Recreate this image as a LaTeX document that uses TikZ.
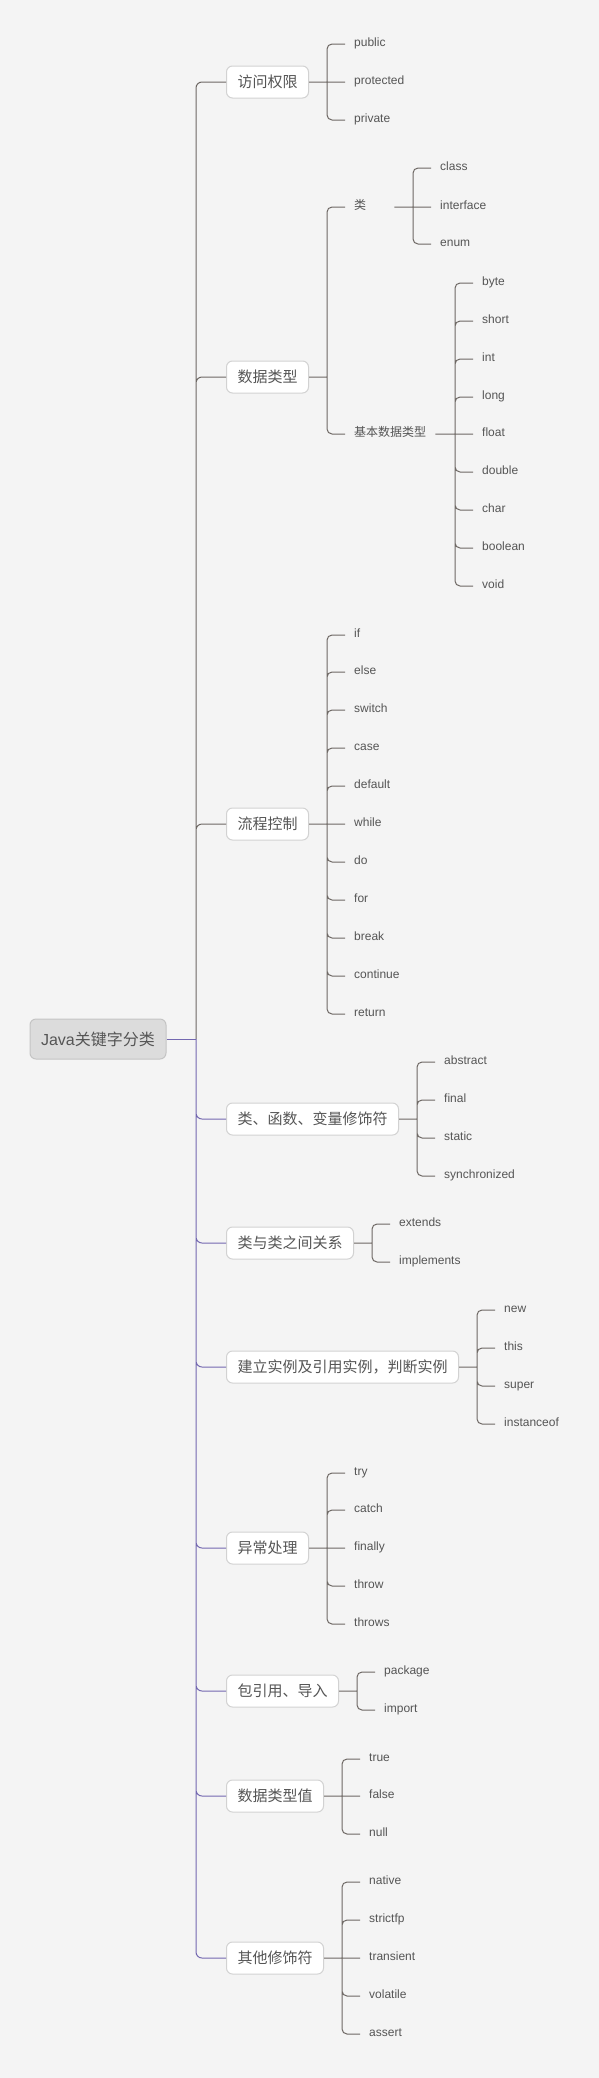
\documentclass[tikz,border=0pt]{standalone}
\usepackage{fontspec}
\setmainfont{Liberation Sans}
\newfontfamily\cjk{Noto Sans CJK SC}
\definecolor{bgcol}{HTML}{F4F4F4}
\definecolor{txtcol}{HTML}{555555}
\definecolor{linecol}{HTML}{6E6864}
\definecolor{trunkcol}{HTML}{7368B0}
\definecolor{boxline}{HTML}{D2D2D2}
\definecolor{rootfill}{HTML}{DCDCDC}
\definecolor{rootline}{HTML}{C4C4C4}
\begin{document}
\begin{tikzpicture}
[
x=1pt, y=-1pt,
rootbox/.style={draw=rootline, fill=rootfill, rounded corners=6pt, line width=1pt, minimum width=136pt, minimum height=40pt, inner sep=0, text=txtcol, font=\fontsize{16}{19}\selectfont},
topic/.style={draw=boxline, fill=white, rounded corners=6pt, line width=1pt, minimum width=#1, minimum height=32pt, inner sep=0, anchor=west, text=txtcol, font=\cjk\fontsize{15}{18}\selectfont},
leaf/.style={anchor=west, inner xsep=9pt, inner ysep=2pt, text height=8pt, text depth=3pt, text=txtcol, font=\fontsize{12}{14}\selectfont},
cjkleaf/.style={leaf, font=\cjk\fontsize{12}{14}\selectfont},
conn/.style={draw=linecol, line width=1pt, rounded corners=5pt},
trunk/.style={draw=trunkcol, line width=1pt, rounded corners=6pt}
]
\useasboundingbox (0,0) rectangle (599,2078);
\fill[bgcol] (0,0) rectangle (599,2078);

%Nodes
\node[rootbox]	(root) at(98,1039) {Java{\cjk 关键字分类}};
\coordinate (tj) at(196,1039);

%访问权限
\node[topic=82pt]	(acc) at(226,82) {访问权限};
\coordinate (b1) at(327,82);
\node[leaf]	(pub) at(345,44) {public};
\node[leaf]	(prot) at(345,82) {protected};
\node[leaf]	(priv) at(345,120) {private};

%数据类型
\node[topic=82pt]	(dt) at(226,377) {数据类型};
\coordinate (b2) at(327,377);
\node[cjkleaf, text width=31pt]	(lei) at(345,207) {类};
\node[cjkleaf]	(jiben) at(345,434) {基本数据类型};
\coordinate (b2a) at(413,207);
\node[leaf]	(cls) at(431,168) {class};
\node[leaf]	(intf) at(431,207) {interface};
\node[leaf]	(enm) at(431,244) {enum};
\coordinate (b2b) at(455,434);
\node[leaf]	(byte) at(473,283) {byte};
\node[leaf]	(short) at(473,321) {short};
\node[leaf]	(int) at(473,359) {int};
\node[leaf]	(long) at(473,397) {long};
\node[leaf]	(float) at(473,434) {float};
\node[leaf]	(double) at(473,472) {double};
\node[leaf]	(char) at(473,510) {char};
\node[leaf]	(bool) at(473,548) {boolean};
\node[leaf]	(void) at(473,586) {void};

%流程控制
\node[topic=82pt]	(flow) at(226,824) {流程控制};
\coordinate (b3) at(327,824);
\node[leaf]	(if) at(345,635) {if};
\node[leaf]	(else) at(345,672) {else};
\node[leaf]	(switch) at(345,710) {switch};
\node[leaf]	(case) at(345,748) {case};
\node[leaf]	(default) at(345,786) {default};
\node[leaf]	(while) at(345,824) {while};
\node[leaf]	(do) at(345,862) {do};
\node[leaf]	(for) at(345,900) {for};
\node[leaf]	(break) at(345,938) {break};
\node[leaf]	(cont) at(345,976) {continue};
\node[leaf]	(ret) at(345,1014) {return};

%类、函数、变量修饰符
\node[topic=172pt]	(mod) at(226,1119) {类、函数、变量修饰符};
\coordinate (b4) at(417,1119);
\node[leaf]	(abs) at(435,1062) {abstract};
\node[leaf]	(final) at(435,1100) {final};
\node[leaf]	(static) at(435,1138) {static};
\node[leaf]	(sync) at(435,1176) {synchronized};

%类与类之间关系
\node[topic=127pt]	(rel) at(226,1243) {类与类之间关系};
\coordinate (b5) at(372,1243);
\node[leaf]	(ext) at(390,1224) {extends};
\node[leaf]	(impl) at(390,1262) {implements};

%建立实例
\node[topic=232pt]	(inst) at(226,1367) {建立实例及引用实例，判断实例};
\coordinate (b6) at(477,1367);
\node[leaf]	(new) at(495,1310) {new};
\node[leaf]	(this) at(495,1348) {this};
\node[leaf]	(super) at(495,1386) {super};
\node[leaf]	(inof) at(495,1424) {instanceof};

%异常处理
\node[topic=82pt]	(exc) at(226,1548) {异常处理};
\coordinate (b7) at(327,1548);
\node[leaf]	(try) at(345,1473) {try};
\node[leaf]	(catch) at(345,1510) {catch};
\node[leaf]	(fin) at(345,1548) {finally};
\node[leaf]	(throw) at(345,1586) {throw};
\node[leaf]	(throws) at(345,1624) {throws};

%包引用、导入
\node[topic=112pt]	(pkg) at(226,1691) {包引用、导入};
\coordinate (b8) at(357,1691);
\node[leaf]	(pack) at(375,1672) {package};
\node[leaf]	(imp) at(375,1710) {import};

%数据类型值
\node[topic=97pt]	(val) at(226,1796) {数据类型值};
\coordinate (b9) at(342,1796);
\node[leaf]	(true) at(360,1759) {true};
\node[leaf]	(false) at(360,1796) {false};
\node[leaf]	(null) at(360,1834) {null};

%其他修饰符
\node[topic=97pt]	(oth) at(226,1958) {其他修饰符};
\coordinate (b10) at(342,1958);
\node[leaf]	(native) at(360,1882) {native};
\node[leaf]	(strict) at(360,1920) {strictfp};
\node[leaf]	(trans) at(360,1958) {transient};
\node[leaf]	(vol) at(360,1996) {volatile};
\node[leaf]	(assert) at(360,2034) {assert};

%Connectors
\draw[trunk] (root.east) -- (tj);
\draw[conn, rounded corners=6pt] (tj) |- (acc.west) (tj) |- (dt.west) (tj) |- (flow.west);
\draw[trunk] (tj) |- (mod.west) (tj) |- (rel.west) (tj) |- (inst.west) (tj) |- (exc.west) (tj) |- (pkg.west) (tj) |- (val.west) (tj) |- (oth.west);

\draw[conn] (acc.east) -- (b1) (b1) |- (pub.west) (b1) -- (prot.west) (b1) |- (priv.west);
\draw[conn] (dt.east) -- (b2) (b2) |- (lei.west) (b2) |- (jiben.west);
\draw[conn] (lei.east) -- (b2a) (b2a) |- (cls.west) (b2a) -- (intf.west) (b2a) |- (enm.west);
\draw[conn] (jiben.east) -- (b2b) (b2b) |- (byte.west) (b2b) |- (short.west) (b2b) |- (int.west) (b2b) |- (long.west) (b2b) -- (float.west) (b2b) |- (double.west) (b2b) |- (char.west) (b2b) |- (bool.west) (b2b) |- (void.west);
\draw[conn] (flow.east) -- (b3) (b3) |- (if.west) (b3) |- (else.west) (b3) |- (switch.west) (b3) |- (case.west) (b3) |- (default.west) (b3) -- (while.west) (b3) |- (do.west) (b3) |- (for.west) (b3) |- (break.west) (b3) |- (cont.west) (b3) |- (ret.west);
\draw[conn] (mod.east) -- (b4) (b4) |- (abs.west) (b4) |- (final.west) (b4) |- (static.west) (b4) |- (sync.west);
\draw[conn] (rel.east) -- (b5) (b5) |- (ext.west) (b5) |- (impl.west);
\draw[conn] (inst.east) -- (b6) (b6) |- (new.west) (b6) |- (this.west) (b6) |- (super.west) (b6) |- (inof.west);
\draw[conn] (exc.east) -- (b7) (b7) |- (try.west) (b7) |- (catch.west) (b7) -- (fin.west) (b7) |- (throw.west) (b7) |- (throws.west);
\draw[conn] (pkg.east) -- (b8) (b8) |- (pack.west) (b8) |- (imp.west);
\draw[conn] (val.east) -- (b9) (b9) |- (true.west) (b9) -- (false.west) (b9) |- (null.west);
\draw[conn] (oth.east) -- (b10) (b10) |- (native.west) (b10) |- (strict.west) (b10) -- (trans.west) (b10) |- (vol.west) (b10) |- (assert.west);

\end{tikzpicture}
\end{document}
